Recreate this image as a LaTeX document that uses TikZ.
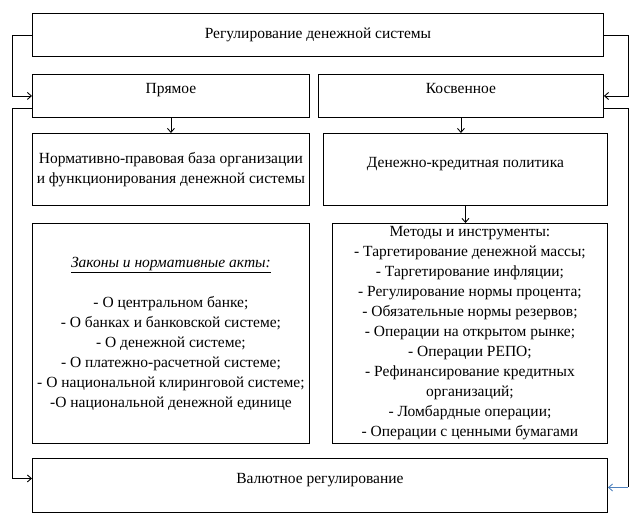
\documentclass[tikz,border=0pt]{standalone}
\usepackage{fontspec}
\setmainfont{Liberation Serif}
\usetikzlibrary{arrows.meta, positioning, calc}
\definecolor{birulink}{RGB}{79,129,189}

\begin{document}
\begin{tikzpicture}[x=1pt, y=-1pt, font=\fontsize{15.5}{20}\selectfont,
    box/.style={draw, line width=0.9pt, rectangle, anchor=north west, align=center, inner sep=0pt},
    raised/.style={text height=11pt, text depth=15pt},
    arr/.style={line width=0.9pt, -{Straight Barb[length=4pt, width=7pt]}}]
        \useasboundingbox (0,0) rectangle (636,520);
        % boxes
        \node[box, minimum width=571, minimum height=43] (top) at (32,13) {Регулирование денежной системы};
        \node[box, raised, minimum width=277, minimum height=43] (pryam) at (32,74) {Прямое};
        \node[box, raised, minimum width=285, minimum height=43] (kosv) at (318,74) {Косвенное};
        \node[box, minimum width=277, minimum height=72] (norm) at (32,133)
            {Нормативно-правовая база организации\\и функционирования денежной системы};
        \node[box, raised, minimum width=284, minimum height=72] (dkp) at (323,133) {Денежно-кредитная политика};
        \node[box, minimum width=277, minimum height=220] (zak) at (32,223)
            {\underline{\textit{Законы и нормативные акты:}}\\[20pt]
             - О центральном банке;\\
             - О банках и банковской системе;\\
             - О денежной системе;\\
             - О платежно-расчетной системе;\\
             - О национальной клиринговой системе;\\
             -О национальной денежной единице};
        \node[box, minimum width=275, minimum height=220] (met) at (332,223)
            {Методы и инструменты:\\
             - Таргетирование денежной массы;\\
             - Таргетирование инфляции;\\
             - Регулирование нормы процента;\\
             - Обязательные нормы резервов;\\
             - Операции на открытом рынке;\\
             - Операции РЕПО;\\
             - Рефинансирование кредитных\\
             организаций;\\
             - Ломбардные операции;\\
             - Операции с ценными бумагами};
        \node[box, raised, minimum width=575, minimum height=54] (val) at (32,458) {Валютное регулирование};

        % side connectors
        \coordinate (lx) at (12,0);
        \coordinate (rx) at (628,0);
        \draw[arr] (top.west) -- (top.west -| lx) |- (pryam.west);
        \draw[arr] ([yshift=-12pt]pryam.west) -- ([yshift=-12pt]pryam.west -| lx) |- ([yshift=7pt]val.west);
        \draw[arr] (top.east) -- (top.east -| rx) |- (kosv.east);
        \draw[line width=0.9pt] ([yshift=-12pt]kosv.east) -- ([yshift=-12pt]kosv.east -| rx) -- ([yshift=-2pt]val.east -| rx);
        \draw[arr, birulink] ([yshift=-2pt]val.east -| rx) -- ([yshift=-2pt]val.east);

        % vertical connectors
        \foreach \a/\b in {pryam/norm, kosv/dkp, dkp/met}
            \draw[arr] (\a.south) -- (\a.south |- \b.north);
    \end{tikzpicture}
\end{document}
